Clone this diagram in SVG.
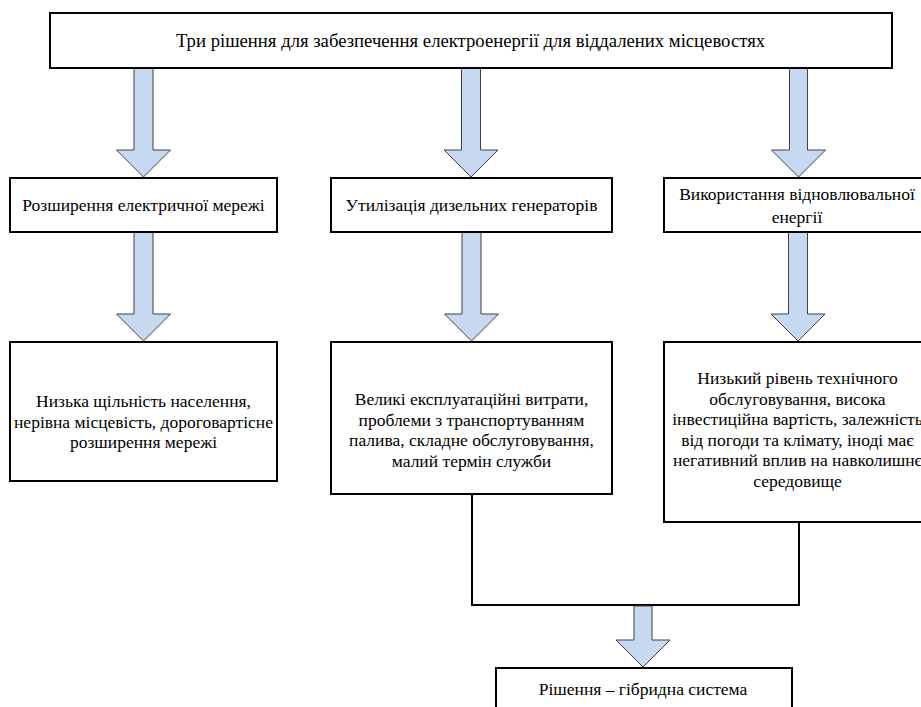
<svg xmlns="http://www.w3.org/2000/svg" width="921" height="707" viewBox="0 0 921 707">
<style>
.box{fill:#ffffff;stroke:#000000;stroke-width:2}
.arr{fill:#c6d9f1;stroke:#404040;stroke-width:1}
.conn{fill:none;stroke:#000000;stroke-width:2}
.t{font-family:'Liberation Serif','Times New Roman','DejaVu Serif',serif;font-size:17.5px;fill:#000000;text-anchor:middle}
.title{font-size:18.7px}
</style>
<rect width="921" height="707" fill="#ffffff"/>
<g id="connectors">
<path class="arr" d="M134,68 H153 V150 H170.5 L143.5,177 L116.5,150 H134 Z"/>
<path class="arr" d="M461.5,68 H480.5 V150 H498 L471,177 L444,150 H461.5 Z"/>
<path class="arr" d="M789.5,68 H807.5 V150 H825.5 L798.5,177 L771.5,150 H789.5 Z"/>
<path class="arr" d="M134,232 H153 V314 H170.5 L143.5,341 L116.5,314 H134 Z"/>
<path class="arr" d="M462,232 H481 V314 H498.5 L471.5,341 L444.5,314 H462 Z"/>
<path class="arr" d="M788.5,232 H807.5 V314 H825 L798,341 L771,314 H788.5 Z"/>
<path class="conn" d="M472,494 V605 H799 V522"/>
<path class="arr" d="M634,606 H652 V640 H670 L643,667 L616,640 H634 Z"/>
</g>
<g id="top">
<rect class="box" x="50" y="13" width="842" height="55"/>
<text class="t title" x="470.5" y="46.5">Три рішення для забезпечення електроенергії для віддалених місцевостях</text>
</g>
<g id="grid">
<rect class="box" x="10" y="178" width="267" height="54"/>
<text class="t" x="143.5" y="211">Розширення електричної мережі</text>
</g>
<g id="diesel">
<rect class="box" x="331" y="178" width="281" height="54"/>
<text class="t" x="471.5" y="211">Утилізація дизельних генераторів</text>
</g>
<g id="renew">
<rect class="box" x="664" y="178" width="266" height="54"/>
<text class="t" x="797" y="200">Використання відновлювальної</text>
<text class="t" x="797" y="223">енергії</text>
</g>
<g id="grid-issues">
<rect class="box" x="10" y="342" width="267" height="139"/>
<text class="t" x="143.5" y="407">Низька щільність населення,</text>
<text class="t" x="143.5" y="427.5">нерівна місцевість, дороговартісне</text>
<text class="t" x="143.5" y="448">розширення мережі</text>
</g>
<g id="diesel-issues">
<rect class="box" x="331" y="342" width="281" height="152"/>
<text class="t" x="471.5" y="405">Великі експлуатаційні витрати,</text>
<text class="t" x="471.5" y="425.5">проблеми з транспортуванням</text>
<text class="t" x="471.5" y="446">палива, складне обслуговування,</text>
<text class="t" x="471.5" y="466.5">малий термін служби</text>
</g>
<g id="renew-issues">
<rect class="box" x="664" y="342" width="266" height="180"/>
<text class="t" x="797.5" y="384">Низький рівень технічного</text>
<text class="t" x="797.5" y="404.5">обслуговування, висока</text>
<text class="t" x="797.5" y="425">інвестиційна вартість, залежність</text>
<text class="t" x="797.5" y="445.5">від погоди та клімату, іноді має</text>
<text class="t" x="797.5" y="466">негативний вплив на навколишнє</text>
<text class="t" x="797.5" y="486.5">середовище</text>
</g>
<g id="hybrid">
<rect class="box" x="496" y="668" width="296" height="52"/>
<text class="t" x="643" y="695">Рішення – гібридна система</text>
</g>
</svg>
